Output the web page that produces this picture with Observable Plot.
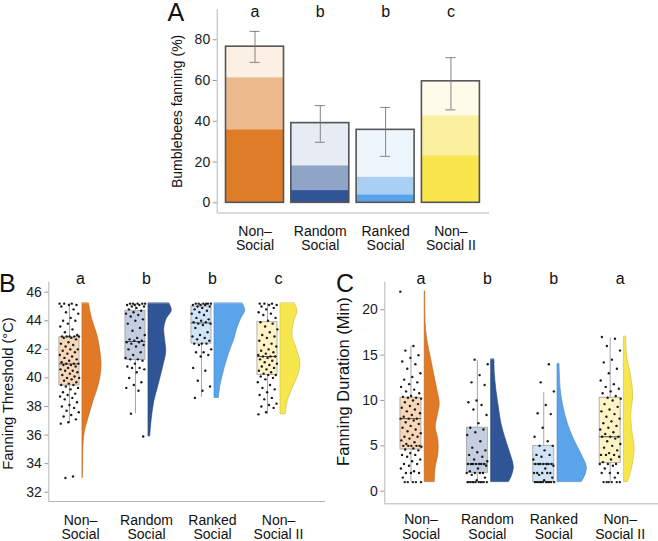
<!DOCTYPE html>
<html><head><meta charset="utf-8">
<script src="https://cdn.jsdelivr.net/npm/d3@7"></script>
<script src="https://cdn.jsdelivr.net/npm/@observablehq/plot@0.6"></script>
<style>
body{margin:0;background:#fff;}
#wrap{position:relative;width:658px;height:541px;overflow:hidden;font-family:"Liberation Sans",Arial,Helvetica,sans-serif;}
.pan{position:absolute;}
.lab{position:absolute;font-size:25px;line-height:25px;color:#111;}
</style></head>
<body><div id="wrap">
<div class="lab" style="left:167.5px;top:0px">A</div>
<div class="lab" style="left:-1px;top:270.8px">B</div>
<div class="lab" style="left:336px;top:270.8px">C</div>
<div class="pan" id="pA" style="left:150px;top:0px"></div>
<div class="pan" id="pB" style="left:0px;top:262px"></div>
<div class="pan" id="pC" style="left:330px;top:262px"></div>
</div>
<script>
// ---------- shared ----------
const cats = ["Non\u2013\nSocial", "Random\nSocial", "Ranked\nSocial", "Non\u2013\nSocial II"];

// ---------- Panel A : % bumblebees fanning ----------
const fanTotal = [76.6, 39.1, 35.8, 59.6];
const fanMid   = [61.3, 18.1, 12.5, 42.7];
const fanDark  = [35.8, 6.0, 3.9, 23.1];
const fanErrLo = [68.9, 29.7, 22.8, 45.6];
const fanErrHi = [84.1, 47.7, 46.8, 71.2];
const lettersA = ["a", "b", "b", "c"];
const ticksA = [0, 20, 40, 60, 80];

// ---------- Panel B : fanning threshold (°C) ----------
const thrNonSocial = [45.2,45.2,45.2,45.1,45.1,45.0,44.8,44.6,44.5,44.2,44.0,44.0,43.8,43.6,43.4,43.2,43.0,42.9,42.9,42.9,42.9,42.9,42.8,42.8,42.7,42.5,42.4,42.3,42.2,42.0,42.0,41.9,41.8,41.7,41.6,41.5,41.4,41.3,41.2,41.1,41.0,41.0,41.0,40.9,40.9,40.8,40.7,40.6,40.5,40.5,40.4,40.3,40.2,40.1,40.0,40.0,39.9,39.8,39.7,39.6,39.5,39.5,39.4,39.3,39.2,39.0,38.9,38.8,38.7,38.6,38.5,38.3,38.1,38.0,37.9,37.7,37.6,37.4,37.3,37.1,36.9,36.8,33.1,33.0];
const thrRandom = [45.2,45.2,45.2,45.2,45.2,45.1,45.1,45.1,45.0,45.0,44.9,44.8,44.7,44.6,44.5,44.4,44.3,44.1,44.0,43.8,43.5,43.3,43.0,42.8,42.7,42.6,42.6,42.5,42.5,42.4,42.3,42.2,42.0,41.8,41.6,41.4,41.3,41.3,41.2,41.0,40.8,40.7,40.7,40.6,40.4,40.0,39.7,39.5,39.3,39.1,37.5,35.9];
const thrRanked = [45.2,45.2,45.2,45.2,45.2,45.2,45.1,45.1,45.1,45.0,45.0,44.9,44.8,44.7,44.6,44.5,44.4,44.2,44.1,44.0,43.9,43.9,43.8,43.8,43.7,43.5,43.2,43.0,42.9,42.8,42.7,42.6,42.4,42.4,42.4,42.3,42.0,41.8,41.8,41.6,41.5,40.7,40.5,39.8,39.4,39.1,38.6];
const thrNonSocial2 = [45.2,45.2,45.2,45.1,45.1,45.0,44.9,44.8,44.6,44.5,44.4,44.2,44.0,43.9,43.8,43.6,43.4,43.2,43.0,42.9,42.8,42.6,42.4,42.3,42.2,42.0,41.9,41.8,41.7,41.6,41.5,41.5,41.5,41.4,41.3,41.2,41.1,41.0,40.9,40.8,40.7,40.6,40.5,40.4,40.3,40.2,40.2,40.1,40.0,39.9,39.7,39.5,39.3,39.2,39.0,38.8,38.6,38.5,38.2,38.1,38.0,37.9,37.6,37.45];
const thrQ1  = [39.47, 41.26, 42.4, 40.2];
const thrMed = [40.98, 42.55, 43.85, 41.5];
const thrQ3  = [42.85, 44.7, 45.0, 43.9];
const thrLo  = [36.8, 37.5, 38.65, 37.45];
const thrHi  = [45.2, 45.2, 45.2, 45.2];
// density profiles [value, relative density]
const thrDensNonSocial = [[45.2,0.65],[44.1,0.97],[42.95,1.5],[41.8,1.8],[40.75,1.9],[39.5,1.63],[38.3,1.07],[37.1,0.57],[36.2,0.23],[35.3,0.1],[34,0.06],[33,0.04]];
const thrDensRandom = [[45.2,2.1],[44.7,2.33],[44.14,1.83],[43.44,1.57],[42.62,1.67],[41.8,1.77],[40.87,1.5],[39.47,1.0],[38.3,0.57],[37.14,0.33],[35.9,0.17]];
const thrDensRanked = [[45.2,2.83],[44.7,3.07],[44.14,2.67],[43.44,2.27],[42.74,2.0],[41.8,1.5],[40.64,1.0],[39.47,0.6],[38.6,0.43]];
const thrDensNonSocial2 = [[45.2,1.43],[44.7,1.7],[43.93,1.37],[42.95,1.2],[42.08,1.6],[41.03,2.0],[40.17,1.77],[39.24,1.2],[38.3,0.7],[37.45,0.53]];
const lettersB = ["a", "b", "b", "c"];
const ticksB = [32, 34, 36, 38, 40, 42, 44, 46];

// ---------- Panel C : fanning duration (min) ----------
const durNonSocial = [22,16,15.5,15,14.7,14.3,14,13.5,13,12.6,12.3,12,11.8,11.5,11.2,11,10.8,10.5,10.4,10.3,10.3,10.2,10,9.8,9.6,9.4,9.2,9,8.8,8.6,8.4,8.2,8,8,8,7.8,7.6,7.4,7.2,7,6.8,6.6,6.4,6.2,6,6,5.8,5.6,5.4,5.2,5,5,5,5,5,4.9,4.7,4.6,4.5,4.2,4,4,3.8,3.5,3.3,3,3,2.8,2.5,2.2,2,2,2,1.5,1,1,1,1,1];
const durRandom = [14.5,14,12.8,12,11.7,10,9.8,9.5,9,8.4,7.5,7,6.8,6.5,6.2,5.5,4.8,4.5,4.3,4,3.8,3.5,3.3,3,3,3,3,3,3,3,2.8,2.5,2.2,2,2,2,2,1.8,1.5,1.2,1,1,1,1,1,1,1,1,1,1,1];
const durRanked = [14,12,11,9.5,8.6,8.5,7,6,5.5,5,5,4.5,4,4,3.8,3.5,3,3,3,3,3,3,3,2.8,2.5,2,2,2,2,2,1.8,1.5,1.2,1,1,1,1,1,1,1,1,1,1,1];
const durNonSocial2 = [17,16.8,16,15.5,14.5,14.2,13.5,13,12.2,11.8,11.5,11.3,11,10.8,10.5,10.3,10.2,10,9.6,9.3,9,8.8,8.5,8.2,8,7.7,7.5,7.2,7,6.8,6.5,6.3,6,6,6,5.8,5.5,5.2,5,4.8,4.5,4.2,4,4,4,3.8,3.5,3.2,3,3,3,2.8,2.5,2,2,2,1.5,1,1,1,1,1,1];
const durQ1  = [4.6, 2.0, 1.0, 3.1];
const durMed = [8.0, 3.0, 3.0, 6.0];
const durQ3  = [10.3, 7.0, 5.0, 10.3];
const durLo  = [1, 1, 1, 1];
const durHi  = [16, 14.4, 10.9, 16.9];
const durDensNonSocial = [[22,0.05],[18.45,0.1],[16.6,0.27],[14.77,0.6],[12.94,0.93],[11.1,1.27],[9.64,1.5],[8.16,1.27],[7.06,1.1],[5.59,1.37],[4.12,1.37],[2.65,1.1],[1,1.0]];
const durDensRandom = [[14.5,0.33],[12.94,0.37],[11.1,0.53],[9.26,0.77],[7.43,1.03],[5.59,1.5],[4.12,1.93],[2.65,2.27],[1.54,2.03],[1,1.77]];
const durDensRanked = [[14,0.2],[11.1,0.33],[9.26,0.6],[7.43,1.03],[5.59,1.7],[4.12,2.37],[2.65,2.93],[1.73,2.77],[1,2.43]];
const durDensNonSocial2 = [[17,0.23],[14.77,0.33],[12.94,0.67],[11.1,0.9],[10.0,0.9],[8.53,0.73],[6.69,0.83],[4.85,1.07],[3.02,0.9],[1.54,0.57],[1,0.4]];
const lettersC = ["a", "b", "b", "a"];
const ticksC = [0, 5, 10, 15, 20];

// ---------- styles ----------
const FONT = '"Liberation Sans", Arial, Helvetica, sans-serif';
const barDark  = ["#df7c28", "#2f5597", "#5aa3ea", "#f8e64c"];
const barMid   = ["#ebb98b", "#8fa4c6", "#a9cff3", "#faf0a0"];
const barLight = ["#fcefe3", "#e7ebf3", "#edf5fd", "#fefbea"];
const boxFill  = ["#f8d7b8", "#c3cee2", "#d0e4f8", "#fdf3c4"];
const vioFill  = ["#e07a26", "#2f5596", "#5ba4ea", "#f7e74e"];
const vioStroke= ["#b8621c", "#223f74", "#4486c8", "#cbbb32"];
const idx = [0, 1, 2, 3];

function yAxis(ticks, fs) {
  return Plot.axisY(ticks, {tickSize: 4, tickPadding: 3, fontSize: fs, stroke: "#9a9a9a", fill: "#1a1a1a", label: null});
}

// ---------- Panel A ----------
{
  const xd = [-0.579, 3.591], yd = [-5, 94.7], hw = 0.444, cap = 0.077;
  const chart = Plot.plot({
    width: 350, height: 258,
    marginLeft: 66.7, marginRight: 11, marginTop: 9.3, marginBottom: 45.5,
    style: {fontFamily: FONT, background: "transparent", overflow: "visible"},
    x: {domain: xd, axis: null},
    y: {domain: yd, axis: null},
    color: {type: "identity"},
    marks: [
      Plot.ruleX([xd[0]], {stroke: "#b5b5b5"}),
      Plot.ruleY([yd[0]], {stroke: "#b5b5b5"}),
      yAxis(ticksA, 14),
      Plot.rect(idx, {x1: i => i - hw, x2: i => i + hw, y1: i => fanMid[i], y2: i => fanTotal[i], fill: i => barLight[i]}),
      Plot.rect(idx, {x1: i => i - hw, x2: i => i + hw, y1: i => fanDark[i], y2: i => fanMid[i], fill: i => barMid[i]}),
      Plot.rect(idx, {x1: i => i - hw, x2: i => i + hw, y1: 0, y2: i => fanDark[i], fill: i => barDark[i]}),
      Plot.rect(idx, {x1: i => i - hw, x2: i => i + hw, y1: 0, y2: i => fanTotal[i], fill: "none", stroke: "#555", strokeWidth: 1.6}),
      Plot.ruleX(idx, {x: i => i, y1: i => fanErrLo[i], y2: i => fanErrHi[i], stroke: "#777", strokeWidth: 0.9}),
      Plot.ruleY(idx, {y: i => fanErrLo[i], x1: i => i - cap, x2: i => i + cap, stroke: "#777", strokeWidth: 0.9}),
      Plot.ruleY(idx, {y: i => fanErrHi[i], x1: i => i - cap, x2: i => i + cap, stroke: "#777", strokeWidth: 0.9}),
      Plot.text(lettersA, {x: (d, i) => i, text: d => d, frameAnchor: "top", lineAnchor: "bottom", dy: 6.7, fontSize: 16, fill: "#111"}),
      Plot.text(cats, {x: (d, i) => i, text: d => d, frameAnchor: "bottom", lineAnchor: "top", dy: 12.5, fontSize: 14, lineHeight: 1.02, fill: "#111"}),
      Plot.text(["Bumblebees fanning (%)"], {frameAnchor: "left", textAnchor: "middle", rotate: -90, dx: -40, fontSize: 14, fill: "#111"})
    ]
  });
  document.getElementById("pA").append(chart);
}

// ---------- rain-cloud panels ----------
function rain(o) {
  const {el, width, height, margins, xd, yd, ticks, pts, q1, med, q3, lo, hi, dens, letters, label, labelSize, labelDy,
         boxOff, bw, vOff, k, jw, catDy, letDy} = o;
  const P = pts.flatMap((arr, g) => arr.map((v, j) => ({g, v, j: ((j * 0.6180339887 + g * 0.37) % 1) - 0.5})));
  const chart = Plot.plot({
    width, height, ...margins,
    style: {fontFamily: FONT, background: "transparent", overflow: "visible"},
    x: {domain: xd, axis: null},
    y: {domain: yd, axis: null},
    color: {type: "identity"},
    marks: [
      Plot.ruleX([xd[0]], {stroke: "#b5b5b5"}),
      Plot.ruleY([yd[0]], {stroke: "#b5b5b5"}),
      yAxis(ticks, 14),
      ...dens.map((D, g) => Plot.areaX(D, {y: d => d[0], x1: g + vOff, x2: d => g + vOff + d[1] * k,
            curve: "catmull-rom", fill: vioFill[g], stroke: vioStroke[g], strokeWidth: 0.6})),
      Plot.ruleX(idx, {x: i => i + boxOff, y1: i => lo[i], y2: i => q1[i], stroke: "#9a9a9a", strokeWidth: 0.9}),
      Plot.ruleX(idx, {x: i => i + boxOff, y1: i => q3[i], y2: i => hi[i], stroke: "#9a9a9a", strokeWidth: 0.9}),
      Plot.rect(idx, {x1: i => i + boxOff - bw, x2: i => i + boxOff + bw, y1: i => q1[i], y2: i => q3[i],
            fill: i => boxFill[i], stroke: "#a0a0a0", strokeWidth: 0.8}),
      Plot.ruleY(idx, {x1: i => i + boxOff - bw, x2: i => i + boxOff + bw, y: i => med[i], stroke: "#555", strokeWidth: 1}),
      Plot.dot(P, {x: d => d.g + boxOff + d.j * 2 * jw, y: "v", r: 1.2, fill: "#1a1a1a", stroke: "none"}),
      Plot.text(letters, {x: (d, i) => i, text: d => d, frameAnchor: "top", lineAnchor: "bottom", dy: letDy, fontSize: 16, fill: "#111"}),
      Plot.text(cats, {x: (d, i) => i, text: d => d, frameAnchor: "bottom", lineAnchor: "top", dy: catDy, fontSize: 14, lineHeight: 1.02, fill: "#111"}),
      Plot.text([label], {frameAnchor: "left", textAnchor: "middle", rotate: -90, dx: -40.8, dy: labelDy, fontSize: labelSize, fill: "#111"})
    ]
  });
  document.getElementById(el).append(chart);
}

rain({
  el: "pB", width: 330, height: 279,
  margins: {marginLeft: 48.3, marginRight: 5, marginTop: 19.7, marginBottom: 40},
  xd: [-0.48, 3.712], yd: [31.35, 46.7], ticks: ticksB,
  pts: [thrNonSocial, thrRandom, thrRanked, thrNonSocial2],
  q1: thrQ1, med: thrMed, q3: thrQ3, lo: thrLo, hi: thrHi,
  dens: [thrDensNonSocial, thrDensRandom, thrDensRanked, thrDensNonSocial2],
  letters: lettersB, label: "Fanning Threshold (\u00B0C)", labelSize: 14.7, labelDy: 1.7,
  boxOff: -0.167, bw: 0.152, vOff: 0.03, k: 10 / 66, jw: 0.15, catDy: 13, letDy: 1.3
});

rain({
  el: "pC", width: 328, height: 279,
  margins: {marginLeft: 54.3, marginRight: 0, marginTop: 19.7, marginBottom: 37.7},
  xd: [-0.545, 3.577], yd: [-1.39, 23.04], ticks: ticksC,
  pts: [durNonSocial, durRandom, durRanked, durNonSocial2],
  q1: durQ1, med: durMed, q3: durQ3, lo: durLo, hi: durHi,
  dens: [durDensNonSocial, durDensRandom, durDensRanked, durDensNonSocial2],
  letters: lettersC, label: "Fanning Duration (Min)", labelSize: 16.5, labelDy: -11.5,
  boxOff: -0.151, bw: 0.158, vOff: 0.056, k: 10 / 66.4, jw: 0.16, catDy: 10.5, letDy: 1.3
});
</script>
</body></html>
